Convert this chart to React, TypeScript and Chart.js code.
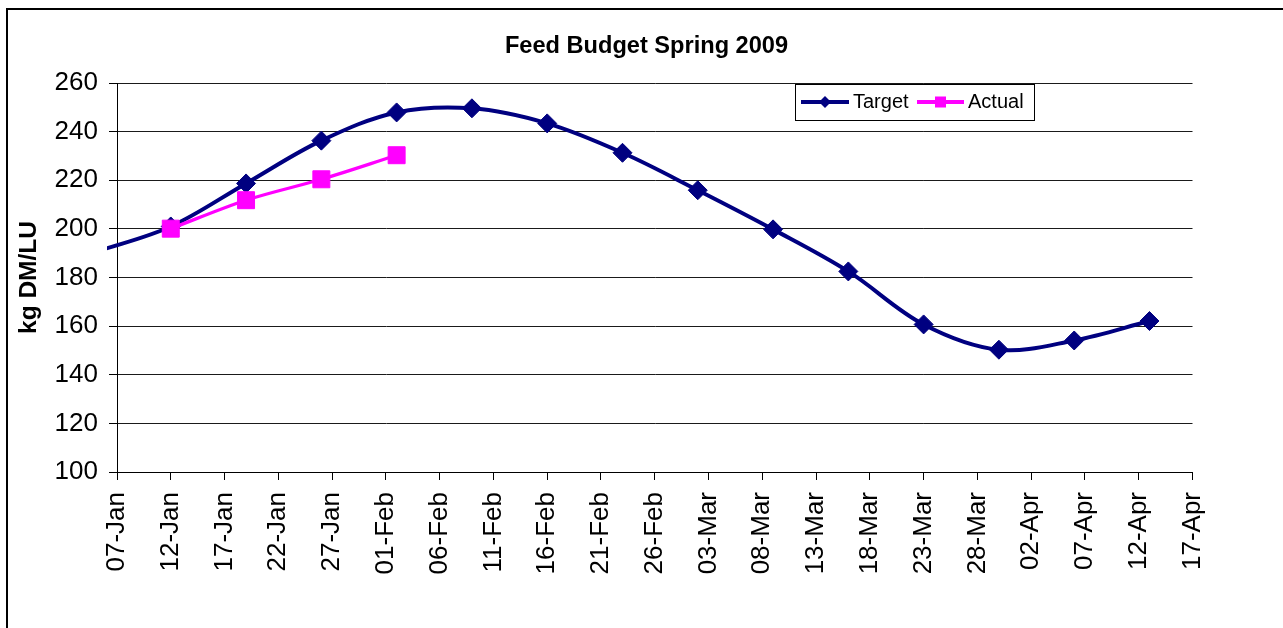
import React, { useEffect, useRef } from "react";
import { Chart, registerables } from "chart.js";

Chart.register(...registerables);

// ---- Data -----------------------------------------------------------
const chartTitle = "Feed Budget Spring 2009";
const yAxisTitle = "kg DM/LU";
const seriesNames = ["Target", "Actual"];

const axisStartDate = "2009-01-07";
const axisEndDate = "2009-04-17";
const tickStepDays = 5;
const yMin = 100;
const yMax = 260;
const yStep = 20;

const monthNames = ["Jan", "Feb", "Mar", "Apr", "May", "Jun", "Jul", "Aug", "Sep", "Oct", "Nov", "Dec"];

const targetDates = [
  "2009-01-05", "2009-01-12", "2009-01-19", "2009-01-26", "2009-02-02",
  "2009-02-09", "2009-02-16", "2009-02-23", "2009-03-02", "2009-03-09",
  "2009-03-16", "2009-03-23", "2009-03-30", "2009-04-06", "2009-04-13",
];
const targetValues = [
  190.5, 201, 218.7, 236.3, 247.9,
  249.6, 243.4, 231.3, 215.9, 199.8,
  182.5, 160.7, 150.3, 154.1, 162.1,
];

const actualDates = ["2009-01-12", "2009-01-19", "2009-01-26", "2009-02-02"];
const actualValues = [200.1, 211.8, 220.4, 230.3];

// ---- Helpers --------------------------------------------------------
const DAY = 86400000;
const toUtc = (s: string) => {
  const [y, m, d] = s.split("-").map(Number);
  return Date.UTC(y, m - 1, d);
};
const base = toUtc(axisStartDate);
const dayOffset = (s: string) => Math.round((toUtc(s) - base) / DAY);
const formatDay = (v: number) => {
  const dt = new Date(base + v * DAY);
  const dd = String(dt.getUTCDate()).padStart(2, "0");
  return `${dd}-${monthNames[dt.getUTCMonth()]}`;
};

const FONT = "Arial, 'Liberation Sans', sans-serif";
const NAVY = "#000080";
const MAGENTA = "#FF00FF";

const legendPlugin = {
  id: "boxLegend",
  afterDraw(chart: any) {
    const ctx = chart.ctx as CanvasRenderingContext2D;
    const ds = chart.data.datasets;
    ctx.save();
    ctx.fillStyle = "#ffffff";
    ctx.fillRect(795, 84, 240, 37);
    ctx.strokeStyle = "#000000";
    ctx.lineWidth = 1;
    ctx.strokeRect(795.5, 84.5, 239, 36);

    const cy = 102;
    ctx.font = `20px ${FONT}`;
    ctx.textBaseline = "middle";
    ctx.textAlign = "left";

    // Target
    ctx.strokeStyle = ds[0].borderColor;
    ctx.lineWidth = 4;
    ctx.beginPath();
    ctx.moveTo(801, cy);
    ctx.lineTo(849, cy);
    ctx.stroke();
    ctx.fillStyle = ds[0].pointBackgroundColor;
    ctx.beginPath();
    ctx.moveTo(825, cy - 6);
    ctx.lineTo(831, cy);
    ctx.lineTo(825, cy + 6);
    ctx.lineTo(819, cy);
    ctx.closePath();
    ctx.fill();
    ctx.fillStyle = "#000";
    ctx.fillText(ds[0].label, 853, cy);

    // Actual
    ctx.strokeStyle = ds[1].borderColor;
    ctx.lineWidth = 4;
    ctx.beginPath();
    ctx.moveTo(917, cy);
    ctx.lineTo(964, cy);
    ctx.stroke();
    ctx.fillStyle = ds[1].pointBackgroundColor;
    ctx.fillRect(935, cy - 5.5, 11, 11);
    ctx.fillStyle = "#000";
    ctx.fillText(ds[1].label, 968, cy);
    ctx.restore();
  },
};

export default function App() {
  const canvasRef = useRef<HTMLCanvasElement | null>(null);

  useEffect(() => {
    if (!canvasRef.current) return;
    const targetData = targetDates.map((d, i) => ({ x: dayOffset(d), y: targetValues[i] }));
    const actualData = actualDates.map((d, i) => ({ x: dayOffset(d), y: actualValues[i] }));
    const xMax = dayOffset(axisEndDate);

    const chart = new Chart(canvasRef.current, {
      type: "line",
      data: {
        datasets: [
          {
            label: seriesNames[0],
            data: targetData,
            borderColor: NAVY,
            backgroundColor: NAVY,
            pointBackgroundColor: NAVY,
            pointBorderColor: NAVY,
            borderWidth: 4,
            pointStyle: "rectRot",
            pointRadius: (c: any) => (c.raw && c.raw.x < 0 ? 0 : 9.5),
            pointBorderWidth: 1,
            tension: 0.35,
            order: 2,
            clip: { left: 10, top: 0, right: 0, bottom: 0 } as any,
          },
          {
            label: seriesNames[1],
            data: actualData,
            borderColor: MAGENTA,
            backgroundColor: MAGENTA,
            pointBackgroundColor: MAGENTA,
            pointBorderColor: MAGENTA,
            borderWidth: 3.3,
            pointStyle: "rect",
            pointRadius: 12,
            pointBorderWidth: 1,
            tension: 0.35,
            order: 1,
          },
        ],
      },
      options: {
        animation: false,
        responsive: true,
        maintainAspectRatio: false,
        events: [],
        layout: { padding: { left: 10, right: 0, top: 0, bottom: 0 } },
        plugins: {
          legend: { display: false },
          tooltip: { enabled: false },
          title: {
            display: true,
            text: chartTitle,
            color: "#000",
            font: { family: FONT, size: 23.6, weight: "bold" },
            padding: { top: 32.2, bottom: 22.5 },
          },
        },
        scales: {
          x: {
            type: "linear",
            min: 0,
            max: xMax,
            afterFit: (s: any) => {
              s.height = 156;
            },
            afterBuildTicks: (s: any) => {
              const t = [];
              for (let v = 0; v <= xMax; v += tickStepDays) t.push({ value: v });
              s.ticks = t;
            },
            ticks: {
              autoSkip: false,
              minRotation: 90,
              maxRotation: 90,
              padding: 12,
              color: "#000",
              font: { family: FONT, size: 26 },
              callback: (v: any) => formatDay(Number(v)),
            },
            grid: {
              drawOnChartArea: false,
              drawTicks: true,
              tickLength: 8,
              tickColor: "#000",
              color: "#000",
            },
            border: { display: true, color: "#000", width: 1 },
          },
          y: {
            type: "linear",
            min: yMin,
            max: yMax,
            afterFit: (s: any) => {
              s.width = 107;
            },
            ticks: {
              stepSize: yStep,
              padding: 11,
              color: "#000",
              font: { family: FONT, size: 26 },
            },
            grid: {
              drawOnChartArea: true,
              drawTicks: true,
              tickLength: 8,
              tickColor: "#000",
              color: "#1a1a1a",
              lineWidth: 1,
            },
            border: { display: true, color: "#000", width: 1 },
            title: {
              display: true,
              text: yAxisTitle,
              color: "#000",
              font: { family: FONT, size: 24.5, weight: "bold" },
              padding: { top: 5, bottom: 0 },
            },
          },
          rightSpace: {
            type: "linear",
            position: "right",
            display: true,
            afterFit: (s: any) => {
              s.width = 90.5;
            },
            ticks: { display: false },
            grid: { display: false, drawTicks: false },
            border: { display: false },
          },
        },
      },
      plugins: [legendPlugin],
    });

    return () => chart.destroy();
  }, []);

  return (
    <>
      <div
        style={{
          position: "fixed",
          left: 6,
          top: 8,
          width: 2000,
          height: 2000,
          borderLeft: "2px solid #000",
          borderTop: "2px solid #000",
          boxSizing: "border-box",
        }}
      />
      <div style={{ position: "fixed", left: 0, top: 0, width: 1283, height: 628 }}>
        <canvas ref={canvasRef} />
      </div>
    </>
  );
}
